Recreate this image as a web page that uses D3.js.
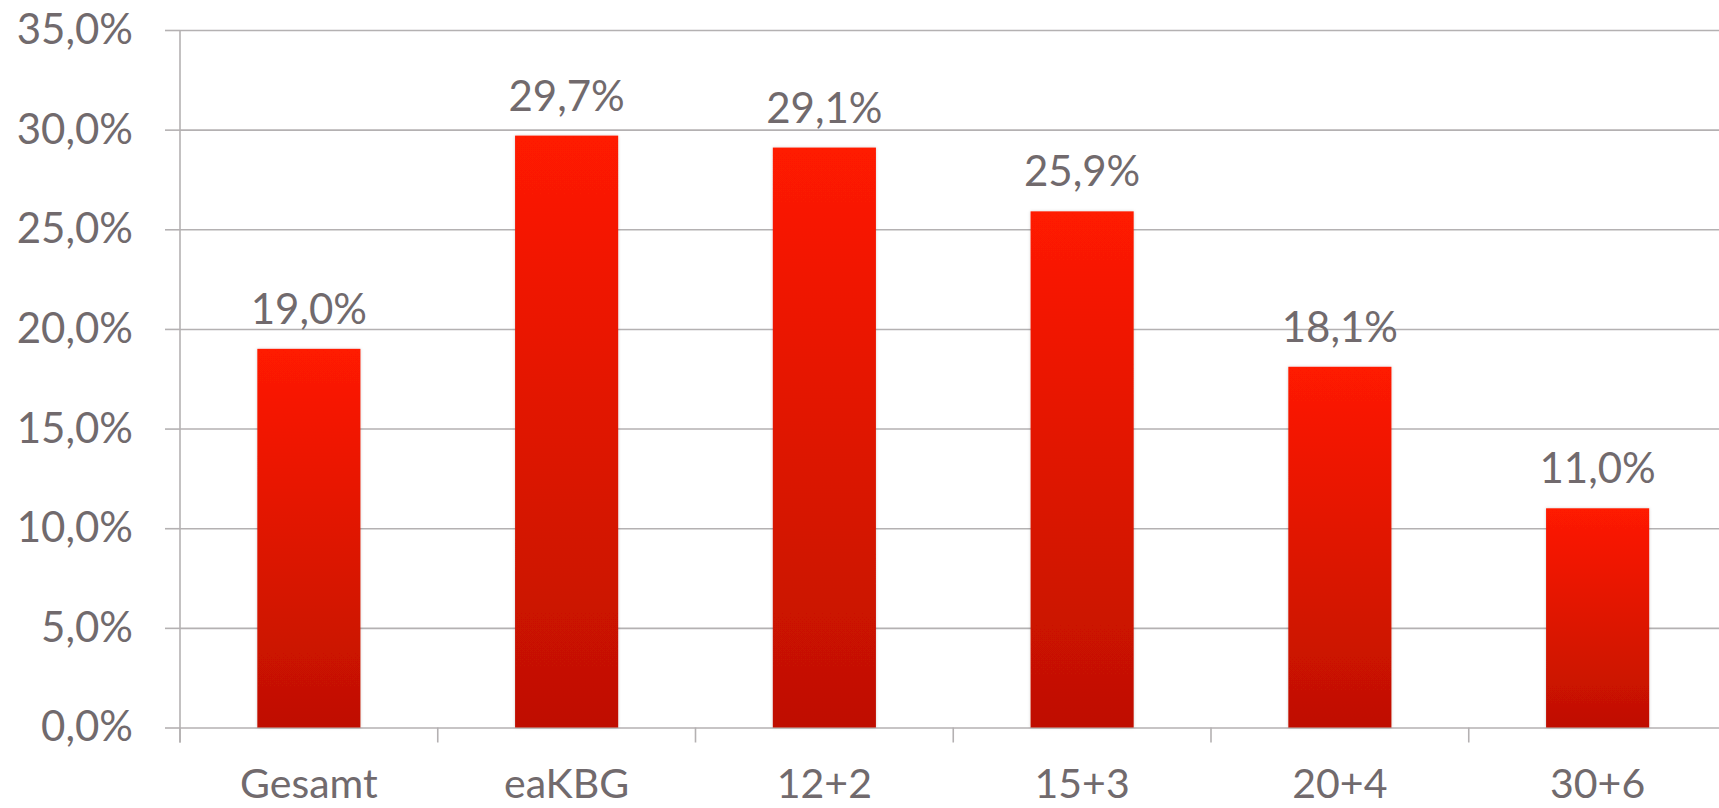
<!DOCTYPE html>
<html>
<head>
<meta charset="utf-8">
<script src="https://cdn.jsdelivr.net/npm/d3@7"></script>
<style>
  html, body { margin: 0; padding: 0; background: #fff; }
  svg { display: block; }
  text { font-family: Lato, "Open Sans", sans-serif; fill: #716a6d; }
</style>
</head>
<body>
<svg id="chart" width="1719" height="808"></svg>
<script>
const categories = ["Gesamt", "eaKBG", "12+2", "15+3", "20+4", "30+6"];
const values = [19.0, 29.7, 29.1, 25.9, 18.1, 11.0];
const yTicks = [0, 5, 10, 15, 20, 25, 30, 35];

const W = 1719, H = 808;
const axisX = 180, yTop = 30, yBottom = 727.5;
const step = 257.75;
const fmt = v => v.toFixed(1).replace(".", ",") + "%";

const svg = d3.select("#chart");

const defs = svg.append("defs");
const grad = defs.append("linearGradient").attr("id", "barGrad")
  .attr("x1", 0).attr("y1", 0).attr("x2", 0).attr("y2", 1);
grad.append("stop").attr("offset", "0%").attr("stop-color", "#ff1a02");
grad.append("stop").attr("offset", "100%").attr("stop-color", "#bf1000");
const f = defs.append("filter").attr("id", "shadow").attr("x", "-10%").attr("y", "-10%").attr("width", "120%").attr("height", "120%");
f.append("feDropShadow").attr("dx", 0).attr("dy", 0).attr("stdDeviation", 1.5).attr("flood-color", "#000").attr("flood-opacity", 0.18);

const x = d3.scaleBand().domain(categories)
  .range([axisX, axisX + step * categories.length])
  .paddingInner(0.6).paddingOuter(0.3);
const y = d3.scaleLinear().domain([0, 35]).range([yBottom, yTop]);

// grid lines
const grid = svg.append("g").attr("transform", `translate(${axisX},0)`)
  .call(d3.axisRight(y).tickValues(yTicks).tickSize(W - axisX).tickFormat(""));
grid.select(".domain").remove();
grid.selectAll(".tick line").attr("stroke", "#b4b1b2").attr("stroke-width", 1.6);

// y axis (labels + small ticks left)
const yAxis = svg.append("g").attr("transform", `translate(${axisX},0)`)
  .call(d3.axisLeft(y).tickValues(yTicks).tickSize(15).tickPadding(32).tickFormat(fmt));
yAxis.select(".domain").remove();
yAxis.selectAll(".tick line").attr("stroke", "#b4b1b2").attr("stroke-width", 1.6);
yAxis.selectAll(".tick text").attr("font-size", 42).attr("fill", "#716a6d")
  .attr("font-family", "Lato, 'Open Sans', sans-serif");

// vertical axis line
svg.append("line").attr("x1", axisX).attr("x2", axisX)
  .attr("y1", y(35)).attr("y2", yBottom + 15)
  .attr("stroke", "#b4b1b2").attr("stroke-width", 1.6);

// category boundary ticks
const bounds = d3.range(categories.length + 1).map(i => axisX + i * step);
svg.append("g").selectAll("line").data(bounds).join("line")
  .attr("x1", d => d).attr("x2", d => d)
  .attr("y1", yBottom).attr("y2", yBottom + 15)
  .attr("stroke", "#b4b1b2").attr("stroke-width", 1.6);

// bars
svg.append("g").selectAll("rect").data(values).join("rect")
  .attr("x", (d, i) => x(categories[i]))
  .attr("width", x.bandwidth())
  .attr("y", d => y(d))
  .attr("height", d => yBottom - y(d))
  .attr("fill", "url(#barGrad)")
  .attr("filter", "url(#shadow)");

// value labels
svg.append("g").selectAll("text").data(values).join("text")
  .attr("x", (d, i) => x(categories[i]) + x.bandwidth() / 2)
  .attr("y", d => y(d) - 25)
  .attr("text-anchor", "middle")
  .attr("font-size", 42)
  .text(fmt);

// category labels
svg.append("g").selectAll("text").data(categories).join("text")
  .attr("x", d => x(d) + x.bandwidth() / 2)
  .attr("y", 798)
  .attr("text-anchor", "middle")
  .attr("font-size", 41)
  .text(d => d);
</script>
</body>
</html>
